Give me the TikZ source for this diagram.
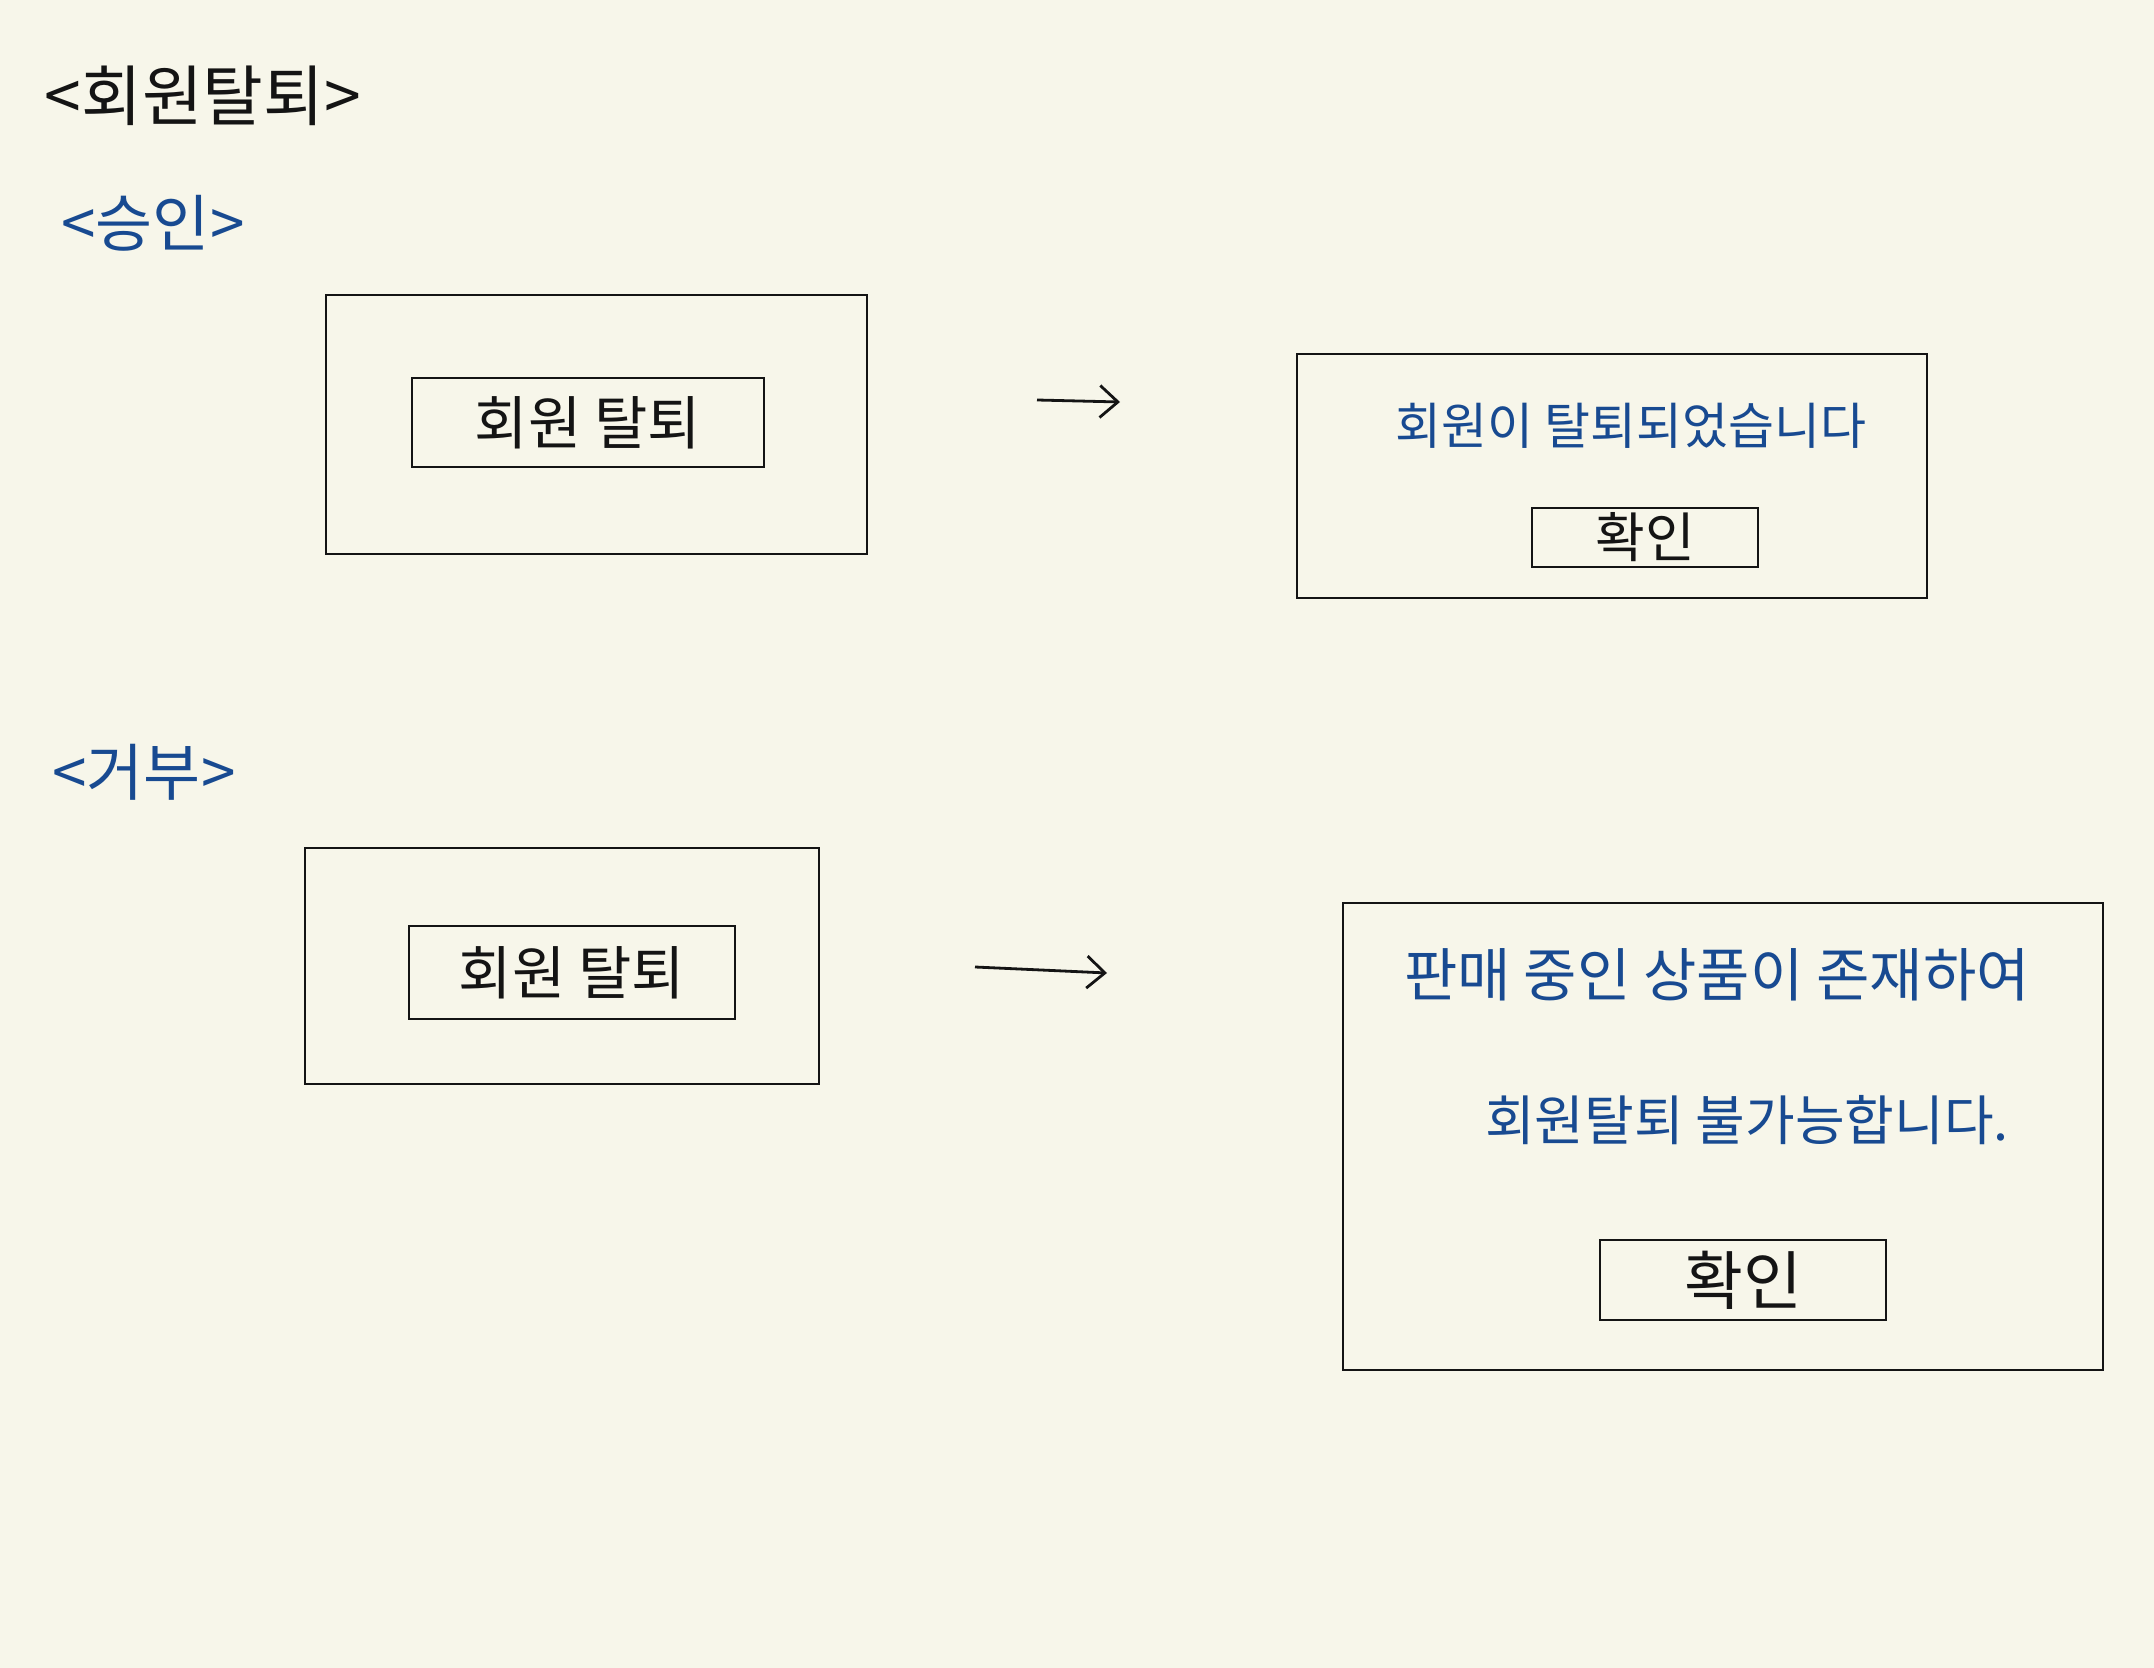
\documentclass[tikz,border=0pt]{standalone}
\usepackage{fontspec}
\setmainfont{Noto Sans CJK KR}
\usetikzlibrary{arrows.meta}
\definecolor{paper}{RGB}{247,246,234}
\definecolor{ink}{RGB}{20,20,20}
\definecolor{pen}{RGB}{24,74,145}
\tikzset{
  frame/.style={draw=ink, line width=1.4pt, rectangle, inner sep=0pt},
  btn/.style={draw=ink, line width=1.4pt, rectangle, inner sep=0pt, text=ink},
  blue/.style={text=pen, inner sep=0pt},
  head/.style={text=ink, inner sep=0pt},
  flow/.style={draw=ink, line width=1.4pt, -{Straight Barb[length=9pt,width=16pt,line width=1.4pt]}}
}
\begin{document}
\begin{tikzpicture}[x=0.5pt,y=-0.5pt]
\fill[paper] (0,0) rectangle (2154,1668);
\useasboundingbox (0,0) rectangle (2154,1668);

\node[head, font=\fontsize{33pt}{36pt}\selectfont] (title) at (203,96) {<회원탈퇴>};
\node[blue, font=\fontsize{31pt}{34pt}\selectfont] (ok) at (153,223) {<승인>};
\node[blue, font=\fontsize{31pt}{34pt}\selectfont] (no) at (144,772) {<거부>};

% approve flow
\node[frame, minimum width=270.5pt, minimum height=129.5pt] (box1) at (596.5,424.5) {};
\node[btn, minimum width=176pt, minimum height=44.5pt, font=\fontsize{29pt}{32pt}\selectfont] (btn1) at (588,422.5) {회원 탈퇴};
\node[frame, minimum width=315pt, minimum height=122pt] (box2) at (1612,476) {};
\node[blue, font=\fontsize{25pt}{29pt}\selectfont] (msg1) at (1631,426) {회원이 탈퇴되었습니다};
\node[btn, minimum width=113pt, minimum height=29.5pt, font=\fontsize{27pt}{30pt}\selectfont] (btn2) at (1645,537.5) {확인};
\coordinate (a1s) at (1037,400);
\coordinate (a1e) at (1120,402);
\draw[flow] (a1s) -- (a1e);

% reject flow
\node[frame, minimum width=257pt, minimum height=118pt] (box3) at (562,966) {};
\node[btn, minimum width=163pt, minimum height=46.5pt, font=\fontsize{29pt}{32pt}\selectfont] (btn3) at (572,972.5) {회원 탈퇴};
\node[frame, minimum width=380pt, minimum height=233.5pt] (box4) at (1723,1136.5) {};
\node[blue, font=\fontsize{29pt}{33pt}\selectfont] (msg2) at (1717,975) {판매 중인 상품이 존재하여};
\node[blue, font=\fontsize{27pt}{31pt}\selectfont] (msg3) at (1747,1120) {회원탈퇴 불가능합니다.};
\node[btn, minimum width=143pt, minimum height=40pt, font=\fontsize{32pt}{35pt}\selectfont] (btn4) at (1743,1280) {확인};
\coordinate (a2s) at (975,967);
\coordinate (a2e) at (1107,973);
\draw[flow] (a2s) -- (a2e);
\end{tikzpicture}
\end{document}
